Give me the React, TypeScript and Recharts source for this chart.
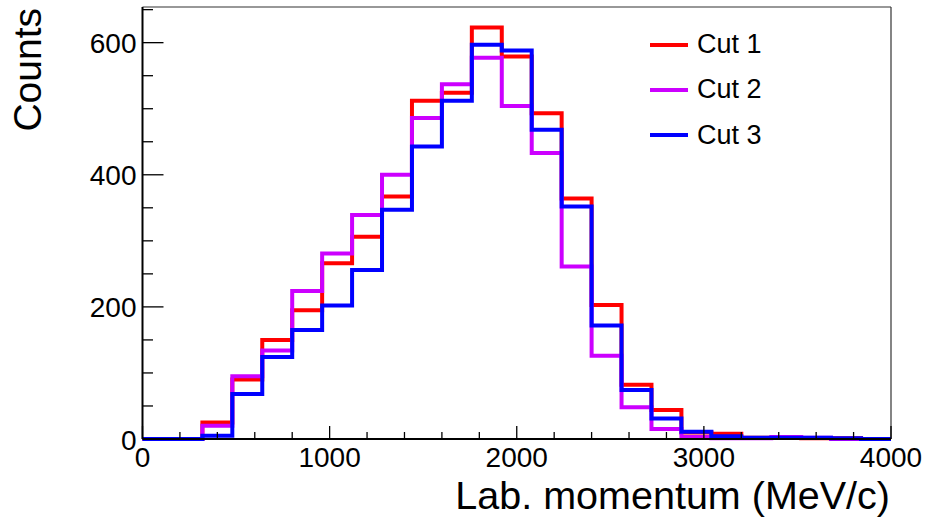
import { LineChart, Line, XAxis, YAxis, ReferenceLine } from 'recharts';

const FONT = '"Liberation Sans", Arial, Helvetica, sans-serif';

// lower edges of the 160 MeV/c bins, plus the last upper edge
const binEdges = [
  0, 160, 320, 480, 640, 800, 960, 1120, 1280, 1440, 1600, 1760, 1920,
  2080, 2240, 2400, 2560, 2720, 2880, 3040, 3200, 3360, 3520, 3680, 3840, 4000,
];
const cut1 = [0, 0, 25, 90, 150, 195, 266, 306, 367, 512, 524, 623, 579, 493, 364, 203, 82, 44, 10, 8, 2, 2, 1, 1, 0];
const cut2 = [0, 0, 20, 95, 134, 224, 281, 339, 400, 486, 537, 577, 504, 433, 261, 126, 48, 15, 3, 1, 1, 3, 2, 0, 0];
const cut3 = [0, 0, 5, 68, 124, 165, 202, 256, 347, 443, 512, 597, 588, 468, 352, 172, 74, 31, 11, 4, 2, 2, 2, 1, 0];

const xTicks = [0, 200, 400, 600, 800, 1000, 1200, 1400, 1600, 1800, 2000, 2200, 2400, 2600, 2800, 3000, 3200, 3400, 3600, 3800, 4000];
const xMajor = [0, 1000, 2000, 3000, 4000];
const yTicks = [0, 50, 100, 150, 200, 250, 300, 350, 400, 450, 500, 550, 600, 650];
const yMajor = [0, 200, 400, 600];
const yMax = 654;

const series = [
  { key: 'cut1', name: 'Cut 1', color: '#ff0000' },
  { key: 'cut2', name: 'Cut 2', color: '#cc00ff' },
  { key: 'cut3', name: 'Cut 3', color: '#0000ff' },
];

const last = cut1.length - 1;
const data = binEdges.map((x, i) => ({
  x,
  cut1: cut1[Math.min(i, last)],
  cut2: cut2[Math.min(i, last)],
  cut3: cut3[Math.min(i, last)],
}));

function XTick(props: any) {
  const { x, y, payload } = props;
  const major = xMajor.includes(payload.value);
  return (
    <g>
      <line x1={x} y1={y} x2={x} y2={y - (major ? 13 : 7)} stroke="#000" strokeWidth={1.3} />
      {major && (
        <text x={x} y={y + 27.5} textAnchor="middle" fontSize={28} fontFamily={FONT} fill="#000">
          {payload.value}
        </text>
      )}
    </g>
  );
}

function YTick(props: any) {
  const { x, y, payload } = props;
  const major = yMajor.includes(payload.value);
  return (
    <g>
      <line x1={x} y1={y} x2={x + (major ? 21 : 10.5)} y2={y} stroke="#000" strokeWidth={1.3} />
      {major && (
        <text x={x - 6} y={y + 10.5} textAnchor="end" fontSize={28} fontFamily={FONT} fill="#000">
          {payload.value}
        </text>
      )}
    </g>
  );
}

function LegendBox() {
  return (
    <div style={{ position: 'absolute', left: 650, top: 22, fontFamily: FONT, fontSize: 27 }}>
      {series.map((s) => (
        <div key={s.key} style={{ display: 'flex', alignItems: 'center', height: 45.3 }}>
          <svg width={38} height={6} style={{ display: 'block' }}>
            <line x1={0} y1={3} x2={38} y2={3} stroke={s.color} strokeWidth={4} />
          </svg>
          <span style={{ marginLeft: 9, color: '#000' }}>{s.name}</span>
        </div>
      ))}
    </div>
  );
}

export default function App() {
  return (
    <div style={{ position: 'absolute', left: 0, top: 0, width: 928, height: 529, background: '#fff' }}>
      <LineChart width={928} height={529} data={data} margin={{ top: 7, right: 37, left: 0, bottom: 0 }}>
        <XAxis
          dataKey="x"
          type="number"
          domain={[0, 4000]}
          ticks={xTicks}
          interval={0}
          height={90}
          tickSize={0}
          tickMargin={0}
          tickLine={false}
          axisLine={{ stroke: '#000', strokeWidth: 2 }}
          tick={<XTick />}
          label={(p: any) => (
            <text
              x={p.viewBox.x + p.viewBox.width - 1}
              y={p.viewBox.y + 70}
              textAnchor="end"
              fontSize={39.5}
              fontFamily={FONT}
              fill="#000"
            >
              Lab. momentum (MeV/c)
            </text>
          )}
        />
        <YAxis
          type="number"
          domain={[0, yMax]}
          ticks={yTicks}
          interval={0}
          width={142.5}
          tickSize={0}
          tickMargin={0}
          tickLine={false}
          axisLine={{ stroke: '#000', strokeWidth: 2 }}
          tick={<YTick />}
          label={(p: any) => (
            <text
              transform={`translate(41, ${p.viewBox.y + 1}) rotate(-90)`}
              textAnchor="end"
              fontSize={39}
              fontFamily={FONT}
              fill="#000"
            >
              Counts
            </text>
          )}
        />
        <ReferenceLine y={yMax} stroke="#333" strokeWidth={1.2} />
        <ReferenceLine x={4000} stroke="#333" strokeWidth={1.2} />
        {series.map((s) => (
          <Line
            key={s.key}
            type="stepAfter"
            dataKey={s.key}
            name={s.name}
            stroke={s.color}
            strokeWidth={4}
            dot={false}
            activeDot={false}
            isAnimationActive={false}
          />
        ))}
      </LineChart>
      <LegendBox />
    </div>
  );
}
